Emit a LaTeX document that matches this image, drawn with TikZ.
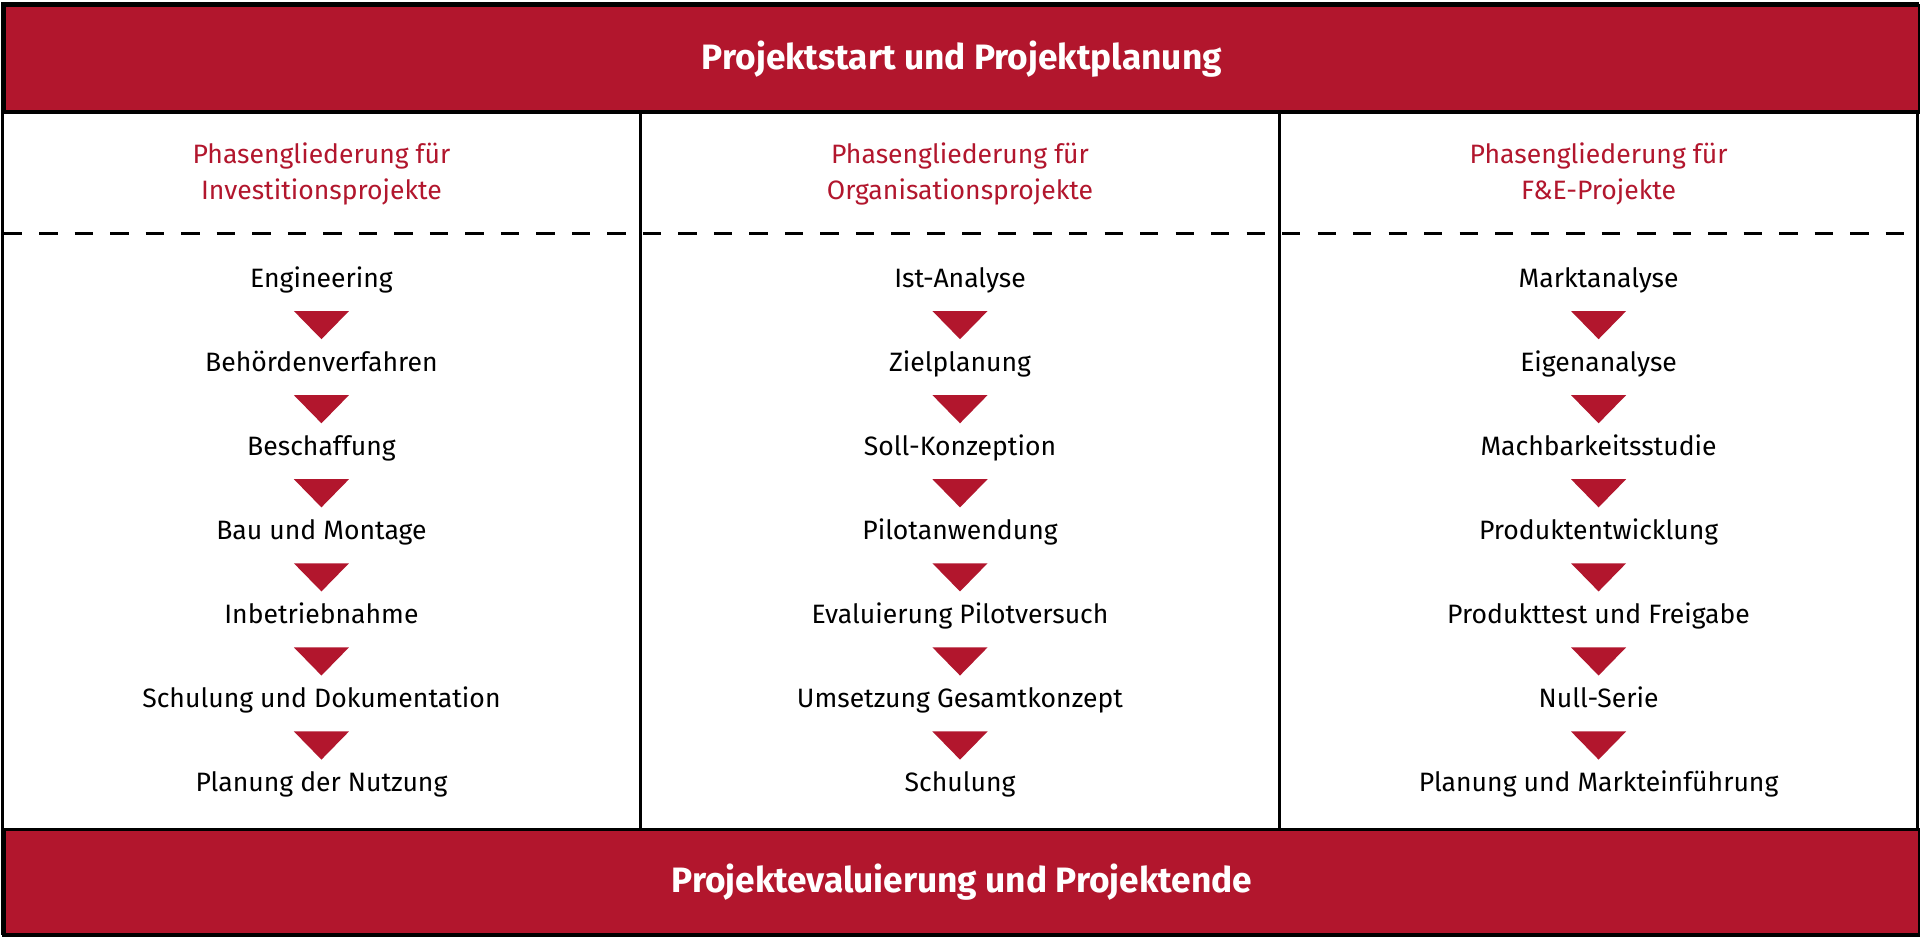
\documentclass[tikz,border=0pt]{standalone}
\usepackage{fontspec}
\setmainfont{Fira Sans}
\newfontfamily\titlefont{Fira Sans Bold}
\newfontfamily\bodyfont{Fira Sans}
\definecolor{brand}{HTML}{B2162D}
\begin{document}
\begin{tikzpicture}[x=1pt,y=-1pt,
  band/.style={fill=brand,draw=black,line width=3pt},
  bandtext/.style={text=white,font=\titlefont\fontsize{28.8}{34}\selectfont},
  headtext/.style={text=brand,align=center,font=\bodyfont\fontsize{21.7}{30}\selectfont},
  itemtext/.style={text=black,font=\bodyfont\fontsize{21.7}{25}\selectfont,inner sep=0pt,anchor=base},
  divider/.style={draw=black,line width=2.5pt},
  dashline/.style={draw=black,line width=2.6pt,dash pattern=on 15pt off 14pt},
  arrowtri/.style={fill=brand}]
\useasboundingbox (0,0) rectangle (1568,766.03);
% frame
\draw[line width=3pt,fill=white] (2,3) rectangle (1566,762);
\node[band,minimum width=1564pt,minimum height=87pt,inner sep=0pt,anchor=north west] (top) at (2,3) {};
\node[band,minimum width=1564pt,minimum height=86pt,inner sep=0pt,anchor=north west] (bot) at (2,676) {};
\node[bandtext] (toptxt) at (top.center) {Projektstart und Projektplanung};
\node[bandtext] (bottxt) at (bot.center) {Projektevaluierung und Projektende};
\coordinate (d1t) at (523,90); \coordinate (d1b) at (523,676);
\coordinate (d2t) at (1045,90); \coordinate (d2b) at (1045,676);
\draw[divider] (d1t) -- (d1b);
\draw[divider] (d2t) -- (d2b);
\coordinate (dl) at (3,191); \coordinate (dr) at (1566,191);
\draw[dashline] (dl) -- (dr);
% headers
\node[headtext] (h1) at (262.5,142) {Phasengliederung für\\Investitionsprojekte};
\node[headtext] (h2) at (784,142) {Phasengliederung für\\Organisationsprojekte};
\node[headtext] (h3) at (1305.5,142) {Phasengliederung für\\F\&E-Projekte};
% items
\foreach \cx/\col/\list in {
  262.5/a/{Engineering,Behördenverfahren,Beschaffung,Bau und Montage,Inbetriebnahme,Schulung und Dokumentation,Planung der Nutzung},
  784/b/{Ist-Analyse,Zielplanung,Soll-Konzeption,Pilotanwendung,Evaluierung Pilotversuch,Umsetzung Gesamtkonzept,Schulung},
  1305.5/c/{Marktanalyse,Eigenanalyse,Machbarkeitsstudie,Produktentwicklung,Produkttest und Freigabe,Null-Serie,Planung und Markteinführung}}{
  \foreach \t [count=\i from 0] in \list {
    \node[itemtext] (\col\i) at (\cx,{234.5+68.67*\i}) {\t};
  }
  \foreach \i in {0,...,5}{
    \fill[arrowtri] (\cx-22.5,{254+68.67*\i}) -- (\cx+22.5,{254+68.67*\i}) -- (\cx,{277+68.67*\i}) -- cycle;
  }
}
\end{tikzpicture}
\end{document}
